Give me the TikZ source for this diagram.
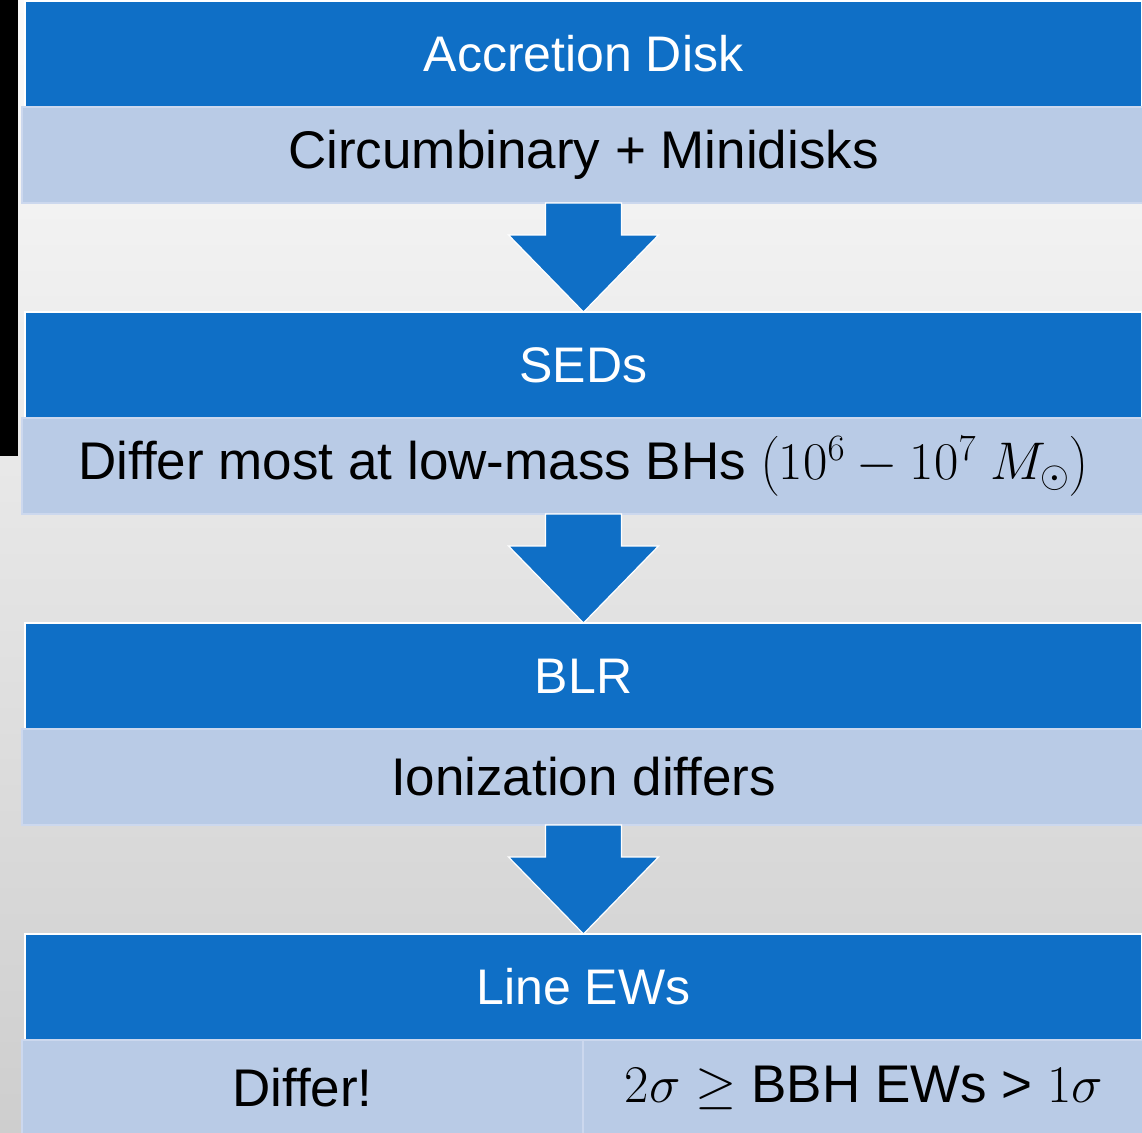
\documentclass[tikz,border=0pt]{standalone}
\usepackage{fix-cm}
\usepackage{amsmath}
\usepackage{fontspec}
\setmainfont{Liberation Sans}
\usetikzlibrary{positioning, calc}

\definecolor{headblue}{HTML}{0F6FC6}
\definecolor{subblue}{HTML}{B9CBE6}
\definecolor{subedge}{HTML}{CCD8EE}
\definecolor{bgtop}{HTML}{FAFAFA}
\definecolor{bgmid}{HTML}{EDEDED}
\definecolor{bgbot}{HTML}{CECECE}

\begin{document}
\begin{tikzpicture}[
    x=1pt, y=-1pt,
    node distance=109pt,
    head/.style = {rectangle, fill=headblue, draw=white, line width=1.2pt, text=white, minimum width=1117pt, minimum height=106pt, inner sep=0pt, outer sep=0pt, font={\fontsize{50}{60}\selectfont}},
    sub/.style = {rectangle, fill=subblue, draw=subedge, line width=2pt, text=black, minimum width=1123pt, minimum height=96pt, inner sep=0pt, outer sep=0pt, font={\fontsize{53}{64}\selectfont}},
    flow/.style = {fill=headblue, draw=white, line width=1.2pt}
]
    \useasboundingbox (0,0) rectangle (1142,1132);
    \clip (0,0) rectangle (1142,1132);
    % backdrop
    \shade [top color=bgtop, middle color=bgmid, bottom color=bgbot] (0,0) rectangle (1142,1132);
    \fill [black] (0,0) rectangle (18,456);

    \node [head] (head1) at (583.5,54) {Accretion Disk};
    \node [sub, below=0pt of head1] (sub1) {Circumbinary + Minidisks};
    \node [head, below=of sub1] (head2) {SEDs};
    \node [sub, below=0pt of head2] (sub2) {Differ most at low-mass BHs $\big(10^6 - 10^7\;M_\odot\big)$};
    \node [head, below=of sub2] (head3) {BLR};
    \node [sub, below=0pt of head3] (sub3) {Ionization differs};
    \node [head, below=of sub3] (head4) {Line EWs};
    \node [sub, minimum width=561pt, anchor=north west] (differ) at ($(head4.south west)+(-3,0)$) {Differ!};
    \node [sub, minimum width=562pt, right=0pt of differ] (sigma) {$2\sigma \geq$ BBH EWs > $1\sigma$};

    % block arrows between the stages
    \foreach \i/\j in {1/2, 2/3, 3/4}
        \filldraw [flow] ($(sub\i.south)+(-38,0)$) -- ++(0,32) -- ++(-37,0) -- (head\j.north)
            -- ($(sub\i.south)+(75,32)$) -- ++(-37,0) -- ++(0,-32) -- cycle;
\end{tikzpicture}
\end{document}
